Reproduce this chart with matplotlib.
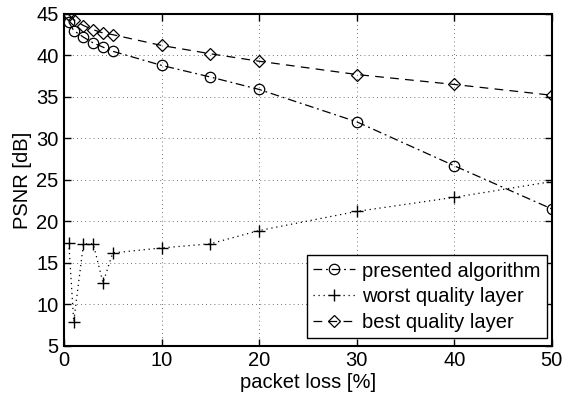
import matplotlib
matplotlib.use("Agg")
import matplotlib.pyplot as plt

plt.rcParams['font.family'] = ['Liberation Sans', 'DejaVu Sans']

packet_loss = [0.5, 1, 2, 3, 4, 5, 10, 15, 20, 30, 40, 50]
presented = [44.0, 43.0, 42.2, 41.5, 41.0, 40.5, 38.8, 37.4, 35.9, 32.0, 26.7, 21.5]
worst = [17.4, 7.9, 17.3, 17.3, 12.6, 16.2, 16.8, 17.3, 18.9, 21.2, 22.9, 24.8]
best = [44.9, 44.3, 43.6, 43.1, 42.7, 42.5, 41.2, 40.2, 39.3, 37.7, 36.5, 35.2]

labels = ['presented algorithm', 'worst quality layer', 'best quality layer']
xticks = [0, 10, 20, 30, 40, 50]
yticks = [5, 10, 15, 20, 25, 30, 35, 40, 45]

fig = plt.figure(figsize=(5.66, 3.98), dpi=100)
ax = fig.add_axes([0.113, 0.131, 0.862, 0.834])

fs = 14.5
ax.plot(packet_loss, presented, color='black', lw=0.9, linestyle=(0, (7, 3, 1.5, 3)),
        marker='o', markersize=7.5, markerfacecolor='none', markeredgewidth=0.9, label=labels[0])
ax.plot(packet_loss, worst, color='black', lw=0.9, linestyle=(0, (1, 3)),
        marker='+', markersize=9, markeredgewidth=1.0, label=labels[1])
ax.plot(packet_loss, best, color='black', lw=0.9, linestyle=(0, (7, 5)),
        marker='D', markersize=6.5, markerfacecolor='none', markeredgewidth=0.9, label=labels[2])

ax.set_xlim(0, 50)
ax.set_ylim(5, 45)
ax.set_xticks(xticks)
ax.set_yticks(yticks)
ax.tick_params(direction='in', top=True, right=True, labelsize=fs, length=5, width=1, pad=4)
ax.grid(True, color='#444444', linestyle=(0, (1, 4)), linewidth=0.6)
for s in ax.spines.values():
    s.set_linewidth(1.5)

ax.set_xlabel('packet loss [%]', fontsize=fs, labelpad=2)
ax.set_ylabel('PSNR [dB]', fontsize=fs, labelpad=3)

leg = ax.legend(loc='lower right', bbox_to_anchor=((547 - 64) / 488, (346 - 338) / 332),
                fontsize=fs, frameon=True, fancybox=False, edgecolor='black',
                framealpha=1, numpoints=1, handlelength=2.1, handletextpad=0.35,
                borderpad=0.3, labelspacing=0.33, borderaxespad=0.0)
leg.get_frame().set_linewidth(1.0)

fig.savefig('out.png', dpi=100)
